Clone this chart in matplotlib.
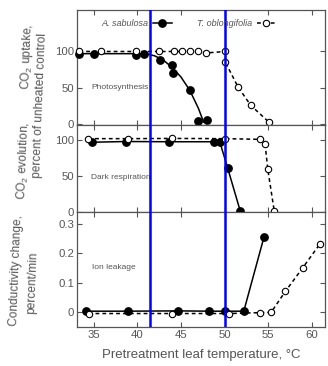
import matplotlib
matplotlib.use("Agg")
import matplotlib.pyplot as plt

plt.rcParams['font.family'] = ['Liberation Sans', 'DejaVu Sans']
plt.rcParams['mathtext.fontset'] = 'custom'
plt.rcParams['mathtext.rm'] = 'Liberation Sans'

GRAY = '#555555'

# --- photosynthesis (percent of control) ---
ps_a_x = [33.36, 35.0, 39.9, 40.8, 42.57, 43.98, 44.1, 46.0, 47.0, 47.96]
ps_a_y = [96.5, 96.5, 94.6, 97, 88.4, 81, 70, 47, 4.5, 6]
ps_a_fit_x = [33.36, 41.0, 42.0, 43.0, 44.0, 45.0, 46.0, 47.0, 47.6]
ps_a_fit_y = [97, 97, 94, 88, 78, 65, 47, 22, 3]

ps_t_x = [33.36, 35.8, 39.9, 42.5, 44.2, 45.1, 46.0, 47.0, 47.9, 50.1, 50.1, 51.55, 53.0, 55.07]
ps_t_y = [100, 100, 100, 100, 100, 100, 100, 100, 98, 100, 85, 51, 26, 3]

# --- dark respiration ---
dr_a_x = [34.77, 38.67, 43.64, 48.83, 49.45, 50.36, 51.78]
dr_a_y = [97, 98, 97.7, 97.7, 97.7, 60.8, 2]
dr_t_x = [34.38, 38.97, 43.98, 50.06, 54.07, 54.64, 54.95, 55.68]
dr_t_y = [102, 102, 102.3, 102, 101, 94.5, 59.4, 2]

# --- ion leakage (percent/min) ---
il_a_x = [34.12, 38.93, 44.63, 48.26, 50.09, 52.2, 54.53]
il_a_y = [0.002, 0.002, 0.003, 0.002, 0.002, 0.002, 0.257]
il_t_x = [34.43, 43.98, 50.55, 54.03, 55.33, 56.97, 58.97, 60.95]
il_t_y = [-0.006, -0.006, -0.006, -0.003, -0.002, 0.07, 0.151, 0.233]

thresholds = [41.5, 50.0]
xticks = [35, 40, 45, 50, 55, 60]

fig = plt.figure(figsize=(3.28, 3.66), dpi=100)
ax1 = fig.add_axes([0.2348, 0.6585, 0.756, 0.3142])
ax2 = fig.add_axes([0.2348, 0.4208, 0.756, 0.2377])
ax3 = fig.add_axes([0.2348, 0.1066, 0.756, 0.3142])

filled = dict(color='black', marker='o', markersize=5.3, markerfacecolor='black',
              markeredgecolor='black', lw=1.1, clip_on=False, zorder=3)
hollow = dict(color='black', marker='o', markersize=4.6, markerfacecolor='white',
              markeredgecolor='black', markeredgewidth=0.8, lw=1.1, ls=(0, (2.5, 2)),
              clip_on=False, zorder=3)

# photosynthesis
ax1.plot(ps_a_fit_x, ps_a_fit_y, color='black', lw=1.1, zorder=2)
ax1.plot(ps_a_x, ps_a_y, ls='none', **{k: v for k, v in filled.items() if k != 'lw'})
h_t, = ax1.plot(ps_t_x, ps_t_y, **hollow)
la, = ax1.plot([], [], **filled)
ax1.legend([la, h_t], ['A. sabulosa', 'T. oblongifolia'], ncol=2, markerfirst=False,
           frameon=False, loc='center', bbox_to_anchor=(0.45, 0.879),
           prop=dict(style='italic', size=6.5), labelcolor=GRAY, handlelength=2.1,
           handletextpad=0.5, columnspacing=2.8, numpoints=1)
ax1.text(34.77, 50, 'Photosynthesis', fontsize=6, color=GRAY, va='center', ha='left')
ax1.set_ylim(-1, 157)
ax1.set_yticks([0, 50, 100])

# dark respiration
ax2.plot(dr_a_x, dr_a_y, **filled)
ax2.plot(dr_t_x, dr_t_y, **hollow)
ax2.text(34.7, 48, 'Dark respiration', fontsize=6, color=GRAY, va='center', ha='left')
ax2.set_ylim(0, 121)
ax2.set_yticks([0, 50, 100])

# ion leakage
ax3.plot(il_a_x, il_a_y, **filled)
ax3.plot(il_t_x, il_t_y, **hollow)
ax3.text(34.77, 0.15, 'Ion leakage', fontsize=6, color=GRAY, va='center', ha='left')
ax3.set_ylim(-0.052, 0.341)
ax3.set_yticks([0, 0.1, 0.2, 0.3])
ax3.set_yticklabels(['0', '0.1', '0.2', '0.3'])
ax3.set_xlabel('Pretreatment leaf temperature, °C', fontsize=9.5, color=GRAY, labelpad=7)

for ax in (ax1, ax2, ax3):
    ax.set_xlim(33.1, 61.5)
    ax.set_xticks(xticks)
    for t in thresholds:
        ax.axvline(t, color='#0000ff', lw=1.8, zorder=5)
    ax.tick_params(direction='in', top=True, right=True, length=3.5, width=0.8,
                   color=GRAY, labelcolor=GRAY, labelsize=8.2, pad=2)
    for s in ax.spines.values():
        s.set_color(GRAY)
        s.set_linewidth(0.9)
for ax in (ax1, ax2):
    ax.tick_params(labelbottom=False)

# y-axis labels (slightly tilted as in the scan)
rot = 87.7
ylab = [
    ('CO$_\\mathregular{2}$ uptake,', 27, 57),
    ('CO$_\\mathregular{2}$ evolution,', 24, 161),
    ('Conductivity change,', 16, 270),
    ('percent of unheated control', 40, 105),
    ('percent/min', 33, 283),
]
for s, px, py in ylab:
    fig.text(px / 328, 1 - py / 366, s, rotation=rot, rotation_mode='anchor',
             ha='center', va='center', fontsize=8.6, color=GRAY)

fig.savefig('out.png', dpi=100)
